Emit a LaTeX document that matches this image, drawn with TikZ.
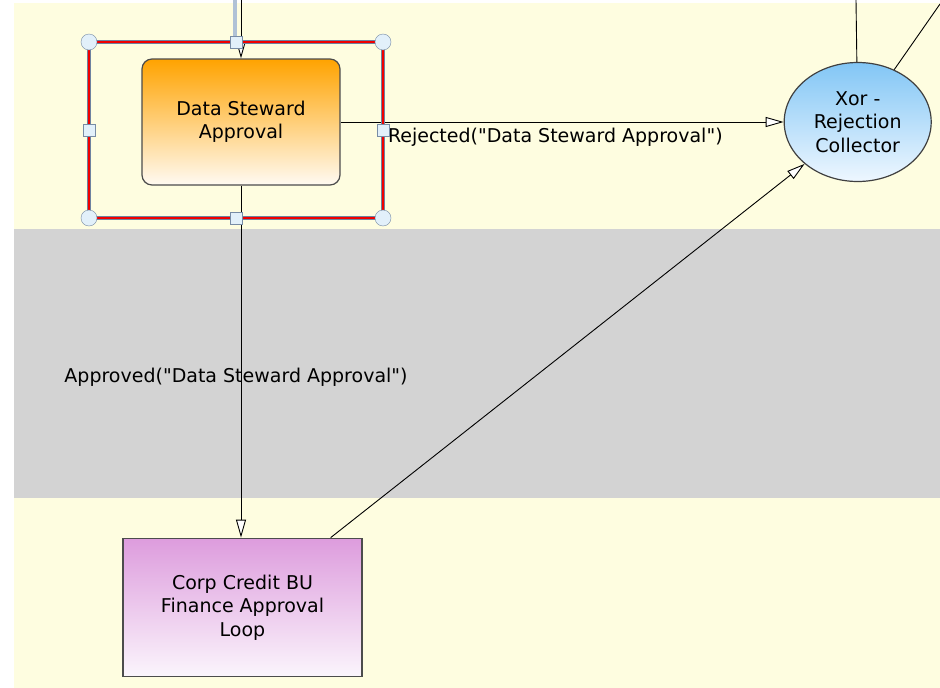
\documentclass[tikz,border=0pt]{standalone}
\usepackage{fontspec}
\setmainfont{DejaVu Sans}
\usetikzlibrary{shapes.geometric, arrows.meta, calc, positioning}
\definecolor{lane}{RGB}{254,253,224}
\definecolor{laneband}{RGB}{211,211,211}
\definecolor{stewardtop}{RGB}{255,163,0}
\definecolor{stewardbot}{RGB}{255,250,242}
\definecolor{looptop}{RGB}{221,156,221}
\definecolor{loopbot}{RGB}{251,245,252}
\definecolor{xortop}{RGB}{130,198,245}
\definecolor{xorbot}{RGB}{238,247,255}
\definecolor{handle}{RGB}{226,240,250}
\definecolor{handleline}{RGB}{120,140,165}
\definecolor{selblue}{RGB}{110,130,160}
\definecolor{selred}{RGB}{240,0,0}
\definecolor{selhalo}{RGB}{176,194,214}
\tikzstyle{task} = [rectangle, rounded corners=10pt, draw=black!70, line width=1.2pt, minimum width=198pt, minimum height=126pt, inner sep=0pt, align=center, shading=axis, top color=stewardtop, bottom color=stewardbot]
\tikzstyle{subproc} = [rectangle, draw=black!70, line width=1.4pt, minimum width=239pt, minimum height=138pt, inner sep=0pt, align=center, shading=axis, top color=looptop, bottom color=loopbot]
\tikzstyle{gate} = [ellipse, draw=black!75, line width=1.2pt, minimum width=147pt, minimum height=119pt, inner sep=0pt, align=center, shading=axis, top color=xortop, bottom color=xorbot]
\tikzstyle{flow} = [line width=0.9pt]
\tikzstyle{arrow} = [line width=0.9pt, -{Triangle[fill=white, length=18pt, width=10pt]}]
\tikzstyle{lbl} = [inner sep=0pt, anchor=base]

\begin{document}
\begin{tikzpicture}[x=1pt, y=-1pt, font=\fontsize{19}{23.5}\selectfont]
		\useasboundingbox (0,0) rectangle (940,688);
		% lanes
		\fill [lane] (14,3) rectangle (940,688);
		\fill [laneband] (14,229) rectangle (940,498);
		% nodes
		\node (Steward) [task] at (241,122) {Data Steward\\Approval};
		\node (Xor) [gate, right = 443pt of Steward] {Xor -\\Rejection\\Collector};
		\node (Finance) [subproc, below = 352pt of Steward, xshift=1.5pt] {Corp Credit BU\\Finance Approval\\Loop};
		\coordinate (StewardIn) at (241,0);
		\coordinate (XorIn) at (856,0);
		\coordinate (XorOut) at (940,4);
		\coordinate (FinanceOut) at ($(Finance.north east)+(-32pt,0pt)$);
		% connectors
		\draw [line width=3.5pt, selhalo] (235,0) -- (235,42);
		\draw [arrow] (StewardIn) -- (Steward);
		\draw [arrow] (Steward) -- node[lbl, pos=0.106, anchor=base west, yshift=-20pt] {Rejected(\textquotedbl Data Steward Approval\textquotedbl)} (Xor);
		\draw [arrow] (Steward.south) -- node[lbl, pos=0.56, xshift=-5pt] {Approved(\textquotedbl Data Steward Approval\textquotedbl)} (Steward.south |- Finance.north);
		\draw [arrow] (FinanceOut) -- (Xor);
		\draw [flow] (Xor) -- (XorIn);
		\draw [flow] (Xor) -- (XorOut);
		% selection
		\draw [line width=4.5pt, selblue] (89,42) rectangle (383,218);
		\draw [line width=2.8pt, selred] (89,42) rectangle (383,218);
		\foreach \x/\y in {89/42, 383/42, 89/218, 383/218}
			\draw [handleline, fill=handle] (\x,\y) circle (8pt);
		\foreach \x/\y in {236/42, 89/130, 383/130, 236/218}
			\draw [handleline, fill=handle] (\x-6,\y-6) rectangle (\x+6,\y+6);
\end{tikzpicture}
\end{document}
